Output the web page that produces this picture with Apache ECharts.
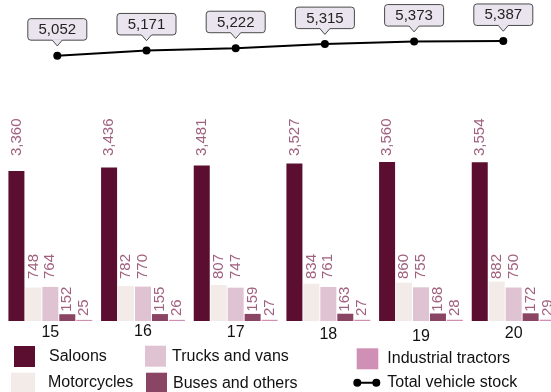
<!DOCTYPE html>
<html>
<head>
<meta charset="utf-8">
<script src="https://cdn.jsdelivr.net/npm/echarts@6/dist/echarts.min.js"></script>
<style>
  html, body { margin: 0; padding: 0; background: #fff; }
  #chart { width: 551px; height: 392px; }
</style>
</head>
<body>
<div id="chart"></div>
<script>
// Vehicle stock by type (thousands), years 2015-2020
const years = ['15', '16', '17', '18', '19', '20'];
const saloons = [3360, 3436, 3481, 3527, 3560, 3554];
const motorcycles = [748, 782, 807, 834, 860, 882];
const trucksVans = [764, 770, 747, 761, 755, 750];
const busesOthers = [152, 155, 159, 163, 168, 172];
const industrialTractors = [25, 26, 27, 27, 28, 29];
const totalStock = [5052, 5171, 5222, 5315, 5373, 5387];

const FONT = "'Liberation Sans', Arial, sans-serif";
const LABEL_COLOR = '#a0617f';
const fmt = v => String(v).replace(/\B(?=(\d{3})+(?!\d))/g, ',');

const chart = echarts.init(document.getElementById('chart'), null, { renderer: 'canvas' });

// vertical value labels sit at a fixed height above the baseline for each series
function barSeries(name, data, color, lift) {
  return {
    type: 'bar',
    name,
    data,
    xAxisIndex: 0,
    yAxisIndex: 0,
    barWidth: 16,
    barGap: '6%',
    itemStyle: { color },
    label: {
      show: true,
      position: 'top',
      rotate: 90,
      align: 'left',
      verticalAlign: 'middle',
      fontFamily: FONT,
      fontSize: 15,
      color: LABEL_COLOR,
      formatter: p => fmt(p.value)
    },
    labelLayout: p => ({ y: p.rect.y + p.rect.height - lift })
  };
}

// call-out box with a downward pointer above each total point
function renderCallout(params, api) {
  const p = api.coord([api.value(0), api.value(1)]);
  const x = p[0], y = p[1];
  const w = 59, h = 21.5, gap = 15.5, tip = 9.7, half = 5;
  const bottom = y - gap, top = bottom - h;
  return {
    type: 'group',
    children: [
      { type: 'rect', shape: { x: x - w / 2, y: top, width: w, height: h, r: 3 },
        style: { fill: '#e9e4ee', stroke: '#4a4a4a', lineWidth: 1 } },
      { type: 'polygon', shape: { points: [[x - half - 0.6, bottom - 1], [x + half + 0.6, bottom - 1], [x, y - tip]] },
        style: { fill: '#e9e4ee' } },
      { type: 'polyline', shape: { points: [[x - half, bottom], [x, y - tip], [x + half, bottom]] },
        style: { stroke: '#4a4a4a', lineWidth: 1, fill: null } },
      { type: 'text', style: { text: fmt(api.value(1)), x: x, y: top + h / 2 + 0.5, align: 'center',
        verticalAlign: 'middle', fontSize: 15, fontFamily: FONT, fill: '#222' } }
    ]
  };
}

const legendText = pad => ({ fontFamily: FONT, fontSize: 16, color: '#111', padding: [0, 0, 0, pad] });
const STOCK_ICON = 'path://M4,0A4,4,0,1,1,4,8A4,4,0,1,1,4,0ZM23,0A4,4,0,1,1,23,8A4,4,0,1,1,23,0ZM4,3H23V5H4Z';

const axisRich = {};
[1, 0, 1, 3, 5, 2].forEach((d, i) => {
  axisRich['y' + i] = { fontFamily: FONT, fontSize: 16, color: '#111', padding: [d, 0, 0, 0] };
});

chart.setOption({
  animation: false,
  textStyle: { fontFamily: FONT },
  grid: [
    // the last group runs past the right edge of the canvas
    { left: 4, width: 556, top: 142.4, bottom: 71, outerBoundsMode: 'none' },
    { left: 12.7, right: 3.1, top: 36, height: 43.9, outerBoundsMode: 'none' }
  ],
  xAxis: [
    {
      type: 'category', gridIndex: 0, data: years,
      axisLine: { show: false }, axisTick: { show: false },
      axisLabel: {
        margin: 3, interval: 0,
        formatter: (v, i) => '{y' + i + '|' + v + '}',
        rich: axisRich
      }
    },
    { type: 'category', gridIndex: 1, data: years, show: false }
  ],
  yAxis: [
    { type: 'value', gridIndex: 0, min: 0, max: 4000, show: false },
    { type: 'value', gridIndex: 1, min: 4500, max: 5500, show: false }
  ],
  legend: [
    { data: ['Saloons'], left: 14, top: 346, itemWidth: 21, itemHeight: 21, icon: 'rect', padding: 0, textStyle: legendText(9) },
    { data: ['Motorcycles'], left: 11, top: 372.7, itemWidth: 24, itemHeight: 20, icon: 'rect', padding: 0, textStyle: legendText(8) },
    { data: ['Trucks and vans'], left: 145, top: 345.7, itemWidth: 21, itemHeight: 21, icon: 'rect', padding: 0, textStyle: legendText(1) },
    { data: ['Buses and others'], left: 146, top: 372.7, itemWidth: 21, itemHeight: 21, icon: 'rect', padding: 0, textStyle: legendText(1) },
    { data: ['Industrial tractors'], left: 356.7, top: 348.3, itemWidth: 21.6, itemHeight: 21, icon: 'rect', padding: 0, textStyle: legendText(4) },
    { data: [{ name: 'Total vehicle stock', icon: STOCK_ICON }], left: 353.3, top: 374.7, itemWidth: 27, itemHeight: 8, padding: 0, textStyle: legendText(2) }
  ],
  series: [
    barSeries('Saloons', saloons, '#5c0e31', 165),
    barSeries('Motorcycles', motorcycles, '#f3ebe8', 42),
    barSeries('Trucks and vans', trucksVans, '#dfc3d2', 42),
    barSeries('Buses and others', busesOthers, '#8a4464', 9.3),
    barSeries('Industrial tractors', industrialTractors, '#d08fb4', 5),
    {
      type: 'line', name: 'Total vehicle stock', data: totalStock,
      xAxisIndex: 1, yAxisIndex: 1,
      symbol: 'circle', symbolSize: 8,
      itemStyle: { color: '#000', borderWidth: 0 },
      lineStyle: { color: '#000', width: 2 }
    },
    {
      type: 'custom', name: 'callouts', xAxisIndex: 1, yAxisIndex: 1,
      data: totalStock.map((v, i) => [i, v]),
      renderItem: renderCallout, silent: true, z: 5
    }
  ]
});
</script>
</body>
</html>
